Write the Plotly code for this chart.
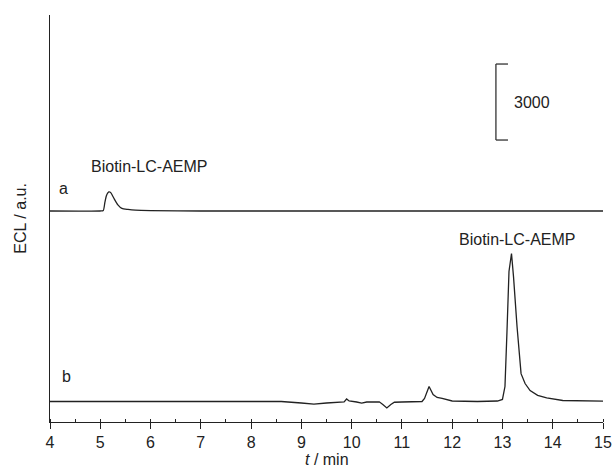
import plotly.graph_objects as go

# ---- data (ECL counts) ----
OFFSET_A = 7520          # vertical offset of trace a
x_a = [4.0, 5.0, 5.06, 5.09, 5.12, 5.15, 5.17, 5.2, 5.22, 5.28, 5.35, 5.43, 5.55, 5.7, 6.0, 7.0, 10.0, 15.0]
y_a = [0, 0, 20, 320, 590, 710, 750, 740, 690, 470, 240, 100, 60, 30, 12, 0, 0, 0]

x_b = [4.0, 4.5, 5.0, 6.0, 7.0, 8.0, 8.6, 9.0, 9.25, 9.5, 9.7, 9.85, 9.9, 9.95,
       10.1, 10.2, 10.3, 10.55, 10.62, 10.7, 10.78, 10.85, 11.0, 11.4, 11.45,
       11.54, 11.62, 11.7, 11.8, 11.9, 12.0, 12.5, 12.9, 13.0, 13.05, 13.09,
       13.13, 13.18, 13.22, 13.29, 13.37, 13.45, 13.55, 13.7, 13.88, 14.2,
       14.5, 15.0]
y_b = [0, 0, 12, 0, 0, 8, 0, -60, -100, -60, -20, -12, 100, 20,
       -20, -60, -20, -12, -120, -255, -120, -30, -20, 0, 120,
       590, 275, 160, 120, 60, 20, 0, 20, 80, 590, 2760,
       5130, 5840, 4930, 2960, 1100, 710, 430, 240, 140, 40,
       20, 12]

scale_value = 3000
scale_bottom = 10320
scale_x = 12.87

x_ticks = list(range(4, 16))

fig = go.Figure()
fig.add_trace(go.Scatter(x=x_a, y=[v + OFFSET_A for v in y_a], mode="lines",
                         line=dict(color="#222222", width=1.3, shape="spline", smoothing=0.6),
                         showlegend=False))
fig.add_trace(go.Scatter(x=x_b, y=y_b, mode="lines",
                         line=dict(color="#222222", width=1.3), showlegend=False))

# scale bar
cap = 0.24
fig.add_shape(type="line", x0=scale_x, x1=scale_x, y0=scale_bottom, y1=scale_bottom + scale_value,
              line=dict(color="#333333", width=1.3))
fig.add_shape(type="line", x0=scale_x, x1=scale_x + cap, y0=scale_bottom + scale_value,
              y1=scale_bottom + scale_value, line=dict(color="#333333", width=1.3))
fig.add_shape(type="line", x0=scale_x, x1=scale_x + cap, y0=scale_bottom,
              y1=scale_bottom, line=dict(color="#333333", width=1.3))

font = dict(family="Liberation Sans, Arial, sans-serif", size=16, color="#222222")
ann = [
    dict(x=13.19, y=scale_bottom + scale_value / 2, text=str(scale_value), xanchor="left", yanchor="middle"),
    dict(x=5.97, y=9270, text="Biotin-LC-AEMP", xanchor="center", yanchor="middle"),
    dict(x=13.28, y=6375, text="Biotin-LC-AEMP", xanchor="center", yanchor="middle"),
    dict(x=4.26, y=8390, text="a", xanchor="center", yanchor="middle"),
    dict(x=4.32, y=970, text="b", xanchor="center", yanchor="middle"),
]
for a in ann:
    fig.add_annotation(**a, showarrow=False, font=font, xref="x", yref="y")

fig.add_annotation(text="ECL / a.u.", xref="paper", yref="paper", x=-0.054, y=0.5,
                   textangle=-90, showarrow=False, font=font, xanchor="center", yanchor="middle")
fig.add_annotation(text="<i>t</i> / min", xref="paper", yref="paper", x=0.5, y=-0.093,
                   showarrow=False, font=font, xanchor="center", yanchor="middle")

fig.update_layout(
    width=612, height=468,
    margin=dict(l=50, r=9, t=15, b=46, autoexpand=False),
    paper_bgcolor="white", plot_bgcolor="white",
    font=font,
    xaxis=dict(range=[4, 15], tickvals=x_ticks, showline=True, linecolor="#222222", linewidth=1.3,
               ticks="outside", ticklen=6, tickwidth=1.2, tickcolor="#222222",
               showgrid=False, zeroline=False, tickfont=font, automargin=False,
               minor=dict(dtick=0.5, ticks="inside", ticklen=3, tickwidth=1.2, tickcolor="#222222",
                          showgrid=False)),
    yaxis=dict(range=[-809, 15255], showline=True, linecolor="#222222", linewidth=1.3,
               ticks="", showticklabels=False, showgrid=False, zeroline=False, automargin=False),
)

fig.write_html("out.html", config={"displayModeBar": False},
               post_script="document.body.style.margin='0';document.body.style.padding='0';"
                           "document.body.style.overflow='hidden';")
